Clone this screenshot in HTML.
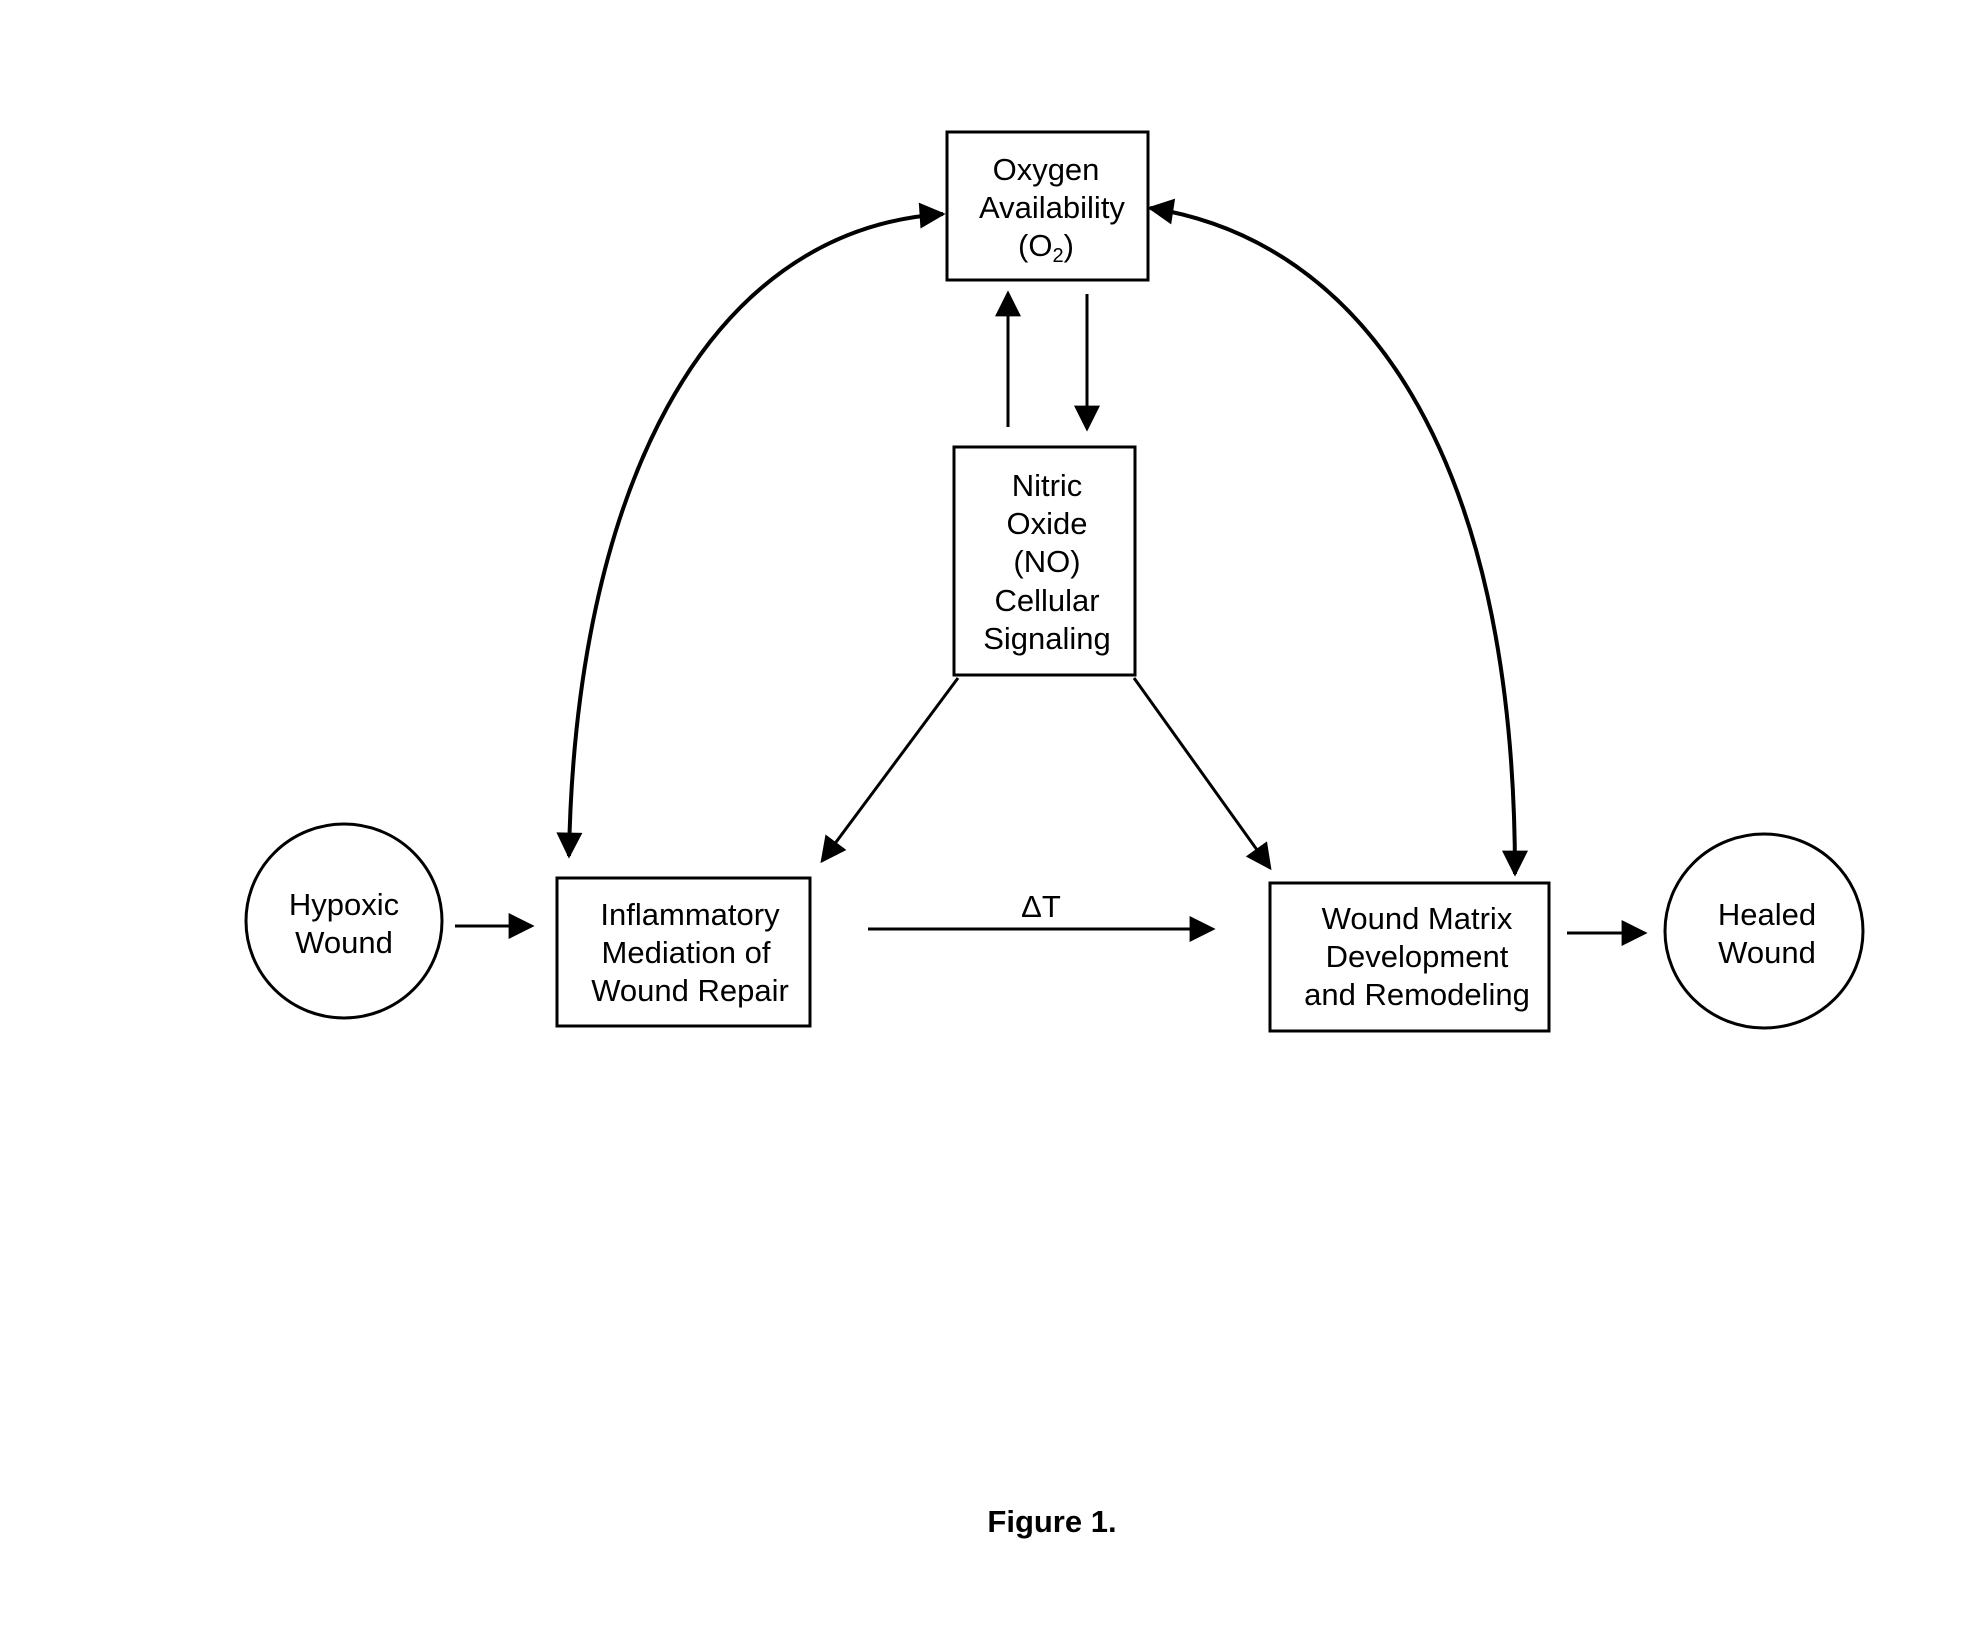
<!DOCTYPE html>
<html><head><meta charset="utf-8"><style>
html,body{margin:0;padding:0;background:#fff;}
svg{display:block;}
text{font-family:"Liberation Sans",Arial,sans-serif;font-size:31px;fill:#000;}
</style></head><body>
<svg width="1987" height="1647" viewBox="0 0 1987 1647" xmlns="http://www.w3.org/2000/svg">
<defs>
<marker id="ah" viewBox="0 0 10 10" refX="9" refY="5" markerWidth="10" markerHeight="10" markerUnits="userSpaceOnUse" orient="auto-start-reverse">
<path d="M0,0 L10,5 L0,10 z" fill="#000"/>
</marker>
<marker id="big" viewBox="0 0 10 10" refX="9" refY="5" markerWidth="30" markerHeight="26" markerUnits="userSpaceOnUse" orient="auto-start-reverse">
<path d="M0,0 L10,5 L0,10 z" fill="#000"/>
</marker>
</defs>
<g fill="none" stroke="#000" stroke-width="3">
<rect x="947" y="132" width="201" height="148"/>
<rect x="954" y="447" width="181" height="228"/>
<rect x="557" y="878" width="253" height="148"/>
<rect x="1270" y="883" width="279" height="148"/>
<ellipse cx="344" cy="921" rx="98" ry="97"/>
<ellipse cx="1764" cy="931" rx="99" ry="97"/>
</g>
<g stroke="#000" stroke-width="3" fill="none">
<line x1="455" y1="926" x2="532" y2="926" marker-end="url(#big)"/>
<line x1="868" y1="929" x2="1213" y2="929" marker-end="url(#big)"/>
<line x1="1567" y1="933" x2="1645" y2="933" marker-end="url(#big)"/>
<line x1="1008" y1="427" x2="1008" y2="293" marker-end="url(#big)"/>
<line x1="1087" y1="294" x2="1087" y2="429" marker-end="url(#big)"/>
<line x1="958" y1="678" x2="822" y2="861" marker-end="url(#big)"/>
<line x1="1134" y1="678" x2="1270" y2="868" marker-end="url(#big)"/>
<path d="M569,856 C575,500 700,230 943,214" stroke-width="4" marker-start="url(#big)" marker-end="url(#big)"/>
<path d="M1150,208 C1360,240 1515,450 1515,874" stroke-width="4" marker-start="url(#big)" marker-end="url(#big)"/>
</g>
<g text-anchor="middle">
<text x="1046" y="180">Oxygen</text>
<text x="1052" y="218">Availability</text>
<text x="1046" y="256">(O<tspan font-size="20" dy="6">2</tspan><tspan dy="-6">)</tspan></text>
<text x="1047" y="496">Nitric</text>
<text x="1047" y="534">Oxide</text>
<text x="1047" y="572">(NO)</text>
<text x="1047" y="611">Cellular</text>
<text x="1047" y="649">Signaling</text>
<text x="344" y="915">Hypoxic</text>
<text x="344" y="953">Wound</text>
<text x="690" y="925">Inflammatory</text>
<text x="686" y="963">Mediation of</text>
<text x="690" y="1001">Wound Repair</text>
<text x="1417" y="929">Wound Matrix</text>
<text x="1417" y="967">Development</text>
<text x="1417" y="1005">and Remodeling</text>
<text x="1767" y="925">Healed</text>
<text x="1767" y="963">Wound</text>
<text x="1041" y="917" font-size="28">ΔT</text>
<text x="1052" y="1532" font-weight="bold" font-size="33">Figure 1.</text>
</g>
</svg>
</body></html>
